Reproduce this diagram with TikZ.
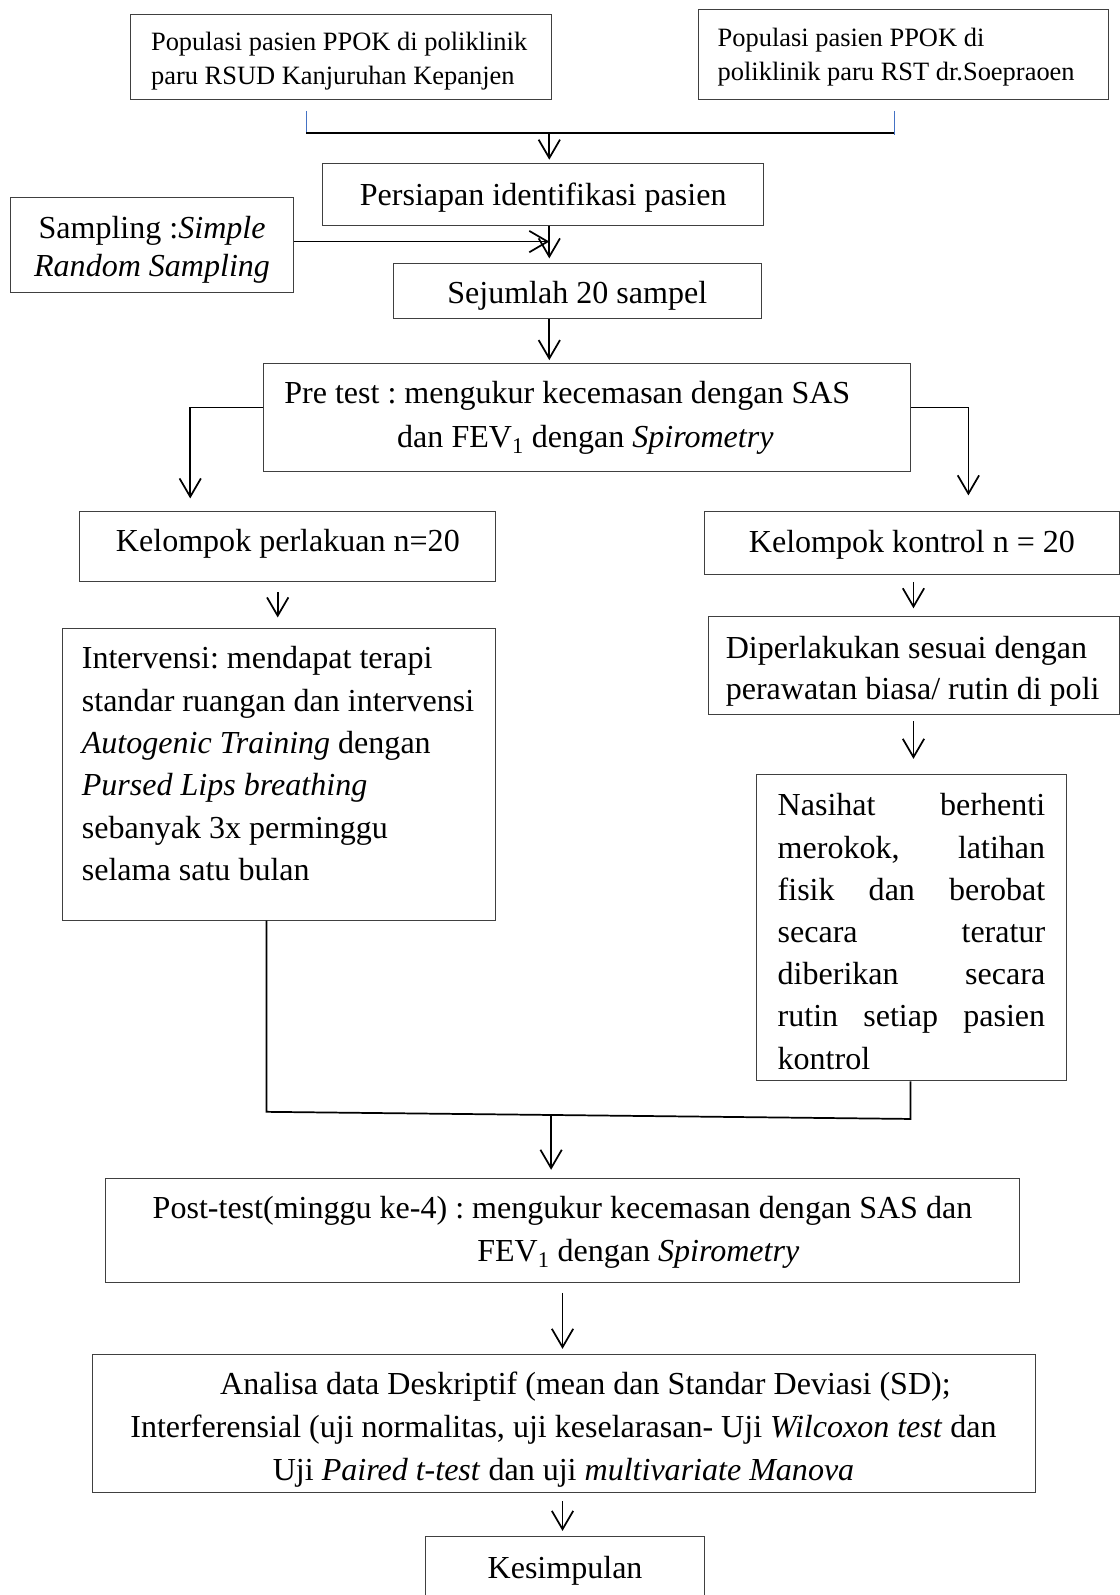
\documentclass[tikz,border=0pt]{standalone}
\usepackage{fontspec}
\setmainfont{Liberation Serif}
\usetikzlibrary{arrows.meta,calc}
\definecolor{tickblue}{RGB}{68,114,196}
\newcommand\bodysize{\fontsize{31.5}{41.6}\selectfont}
\newcommand\smallsize{\fontsize{26}{34}\selectfont}
% fixed natural interword spacing inside nodes
\newcommand\wsp{\spaceskip=.25em\xspaceskip=.25em\relax}
\frenchspacing

\begin{document}
\begin{tikzpicture}[x=1pt,y=-1pt,
  box/.style={draw=black!75, line width=1pt, inner ysep=0pt, anchor=north west,
              font=\bodysize, align=left},
  cbox/.style={box, align=center},
  link/.style={line width=1.7pt},
  arr/.style={line width=1.7pt, -{Straight Barb[length=18pt,width=21pt]}},
  tick/.style={draw=tickblue, line width=1.2pt}]

\useasboundingbox (0,0) rectangle (1101,1568);
\fill[white] (0,0) rectangle (1101,1568);

% source populations
\node[box, font=\smallsize, inner xsep=20pt, text width=374pt,
      text height=35pt, text depth=48pt] (A) at (128,14)
  {\wsp\mbox{Populasi pasien PPOK di poliklinik}\\\mbox{paru RSUD Kanjuruhan Kepanjen}};
\node[box, font=\smallsize, inner xsep=19pt, text width=365pt,
      text height=36pt, text depth=52pt] (B) at (686,9)
  {\wsp\mbox{Populasi pasien PPOK di}\\\mbox{poliklinik paru RST dr.Soepraoen}};

% preparation and sampling
\node[cbox, inner xsep=10pt, text width=413pt,
      text height=41.5pt, text depth=19.5pt] (C) at (317,160)
  {\wsp Persiapan identifikasi pasien};
\node[cbox, font={\fontsize{31.5}{37}\selectfont}, inner xsep=10pt, text width=258pt,
      text height=40pt, text depth=53pt] (S) at (10,194)
  {\wsp Sampling :\textit{Simple}\\\textit{Random Sampling}};
\node[cbox, inner xsep=10pt, text width=342pt,
      text height=38.5pt, text depth=15.5pt] (D) at (386,259)
  {\wsp Sejumlah 20 sampel};

% pre test
\node[box, font={\fontsize{31.5}{43}\selectfont}, inner xsep=20pt, text width=596pt,
      text height=39.5pt, text depth=66.5pt] (E) at (259,357)
  {\wsp\mbox{Pre test : mengukur kecemasan dengan SAS}\\
   \hspace*{111pt}dan FEV\textsubscript{1} dengan \textit{Spirometry}};

% groups
\node[cbox, inner xsep=10pt, text width=389pt,
      text height=40pt, text depth=29pt] (F) at (78,502)
  {\wsp Kelompok perlakuan n=20};
\node[cbox, inner xsep=10pt, text width=388pt,
      text height=40.5pt, text depth=21.5pt] (G) at (692,502)
  {\wsp Kelompok kontrol n = 20};

\node[box, inner xsep=19pt, text width=388pt,
      text height=40pt, text depth=247pt] (H) at (61,617)
  {\wsp\mbox{Intervensi: mendapat terapi}\\
   \mbox{standar ruangan dan intervensi}\\
   \mbox{\textit{Autogenic Training} dengan}\\
   \mbox{\textit{Pursed Lips breathing}}\\
   \mbox{sebanyak 3x perminggu}\\
   \mbox{selama satu bulan}};

\node[box, font={\fontsize{31.5}{41}\selectfont}, inner xsep=17pt, text width=370pt,
      text height=40.5pt, text depth=55.5pt] (I) at (696,606)
  {\wsp\mbox{Diperlakukan sesuai dengan}\\\mbox{perawatan biasa/ rutin di poli}};

% justified block: each full line spread over the text width
\node[box, font={\fontsize{31.5}{41.5}\selectfont}, inner xsep=21pt, text width=263pt,
      text height=40.5pt, text depth=260.5pt] (J) at (743,761)
  {\wsp
   \makebox[263pt][s]{Nasihat\hfill berhenti}\\
   \makebox[263pt][s]{merokok,\hfill latihan}\\
   \makebox[263pt][s]{fisik\hfill dan\hfill berobat}\\
   \makebox[263pt][s]{secara\hfill teratur}\\
   \makebox[263pt][s]{diberikan\hfill secara}\\
   \makebox[263pt][s]{rutin\hfill setiap\hfill pasien}\\
   kontrol};

% post test, analysis, conclusion
\node[cbox, font={\fontsize{31.5}{42}\selectfont}, inner xsep=10pt, text width=879pt,
      text height=39.5pt, text depth=62.5pt] (K) at (103,1158)
  {\wsp Post-test(minggu ke-4) : mengukur kecemasan dengan SAS dan\\
   \hspace*{149pt}FEV\textsubscript{1} dengan \textit{Spirometry}};

\node[cbox, font={\fontsize{31.5}{42}\selectfont}, inner xsep=10pt, text width=907pt,
      text height=39.5pt, text depth=96.5pt] (L) at (90,1331)
  {\wsp\hspace*{43pt}Analisa data Deskriptif (mean dan Standar Deviasi (SD);\\
   Interferensial (uji normalitas, uji keselarasan- Uji \textit{Wilcoxon test} dan\\
   Uji \textit{Paired t-test} dan uji \textit{multivariate Manova}};

\node[cbox, inner xsep=10pt, text width=254pt,
      text height=41.5pt, text depth=18.5pt] (M) at (418,1510)
  {\wsp Kesimpulan};

% helper points for connector routes
\coordinate (jA) at (301,131);
\coordinate (jB) at (879,131);
\coordinate (xm) at (540,0);
\coordinate (sE) at ([yshift=3.5pt]S.east);
\coordinate (eW) at ([yshift=10pt]E.west);
\coordinate (eE) at ([yshift=10pt]E.east);
\coordinate (xl) at (187,0);
\coordinate (xr) at (952,0);
\coordinate (xf) at (273,0);
\coordinate (xg) at (898,0);
\coordinate (jH) at (262,1093);
\coordinate (jJ) at (895,1100);
\coordinate (jK) at ($(jH)!0.442!(jJ)$);
\coordinate (xk) at (553,0);

% merging the two populations
\draw[tick, shorten <=11pt] (A.south -| jA) -- (jA);
\draw[tick, shorten <=11pt] (B.south -| jB) -- ([yshift=-2pt]jB);
\draw[link] (jA) -- (jB);
\draw[arr, shorten >=3pt] (jA -| xm) -- (C.north -| xm);

% sampling into the sample
\draw[arr, shorten >=5pt] (C.south -| xm) -- (D.north -| xm);
\draw[arr] (sE) -- (sE -| xm);
\draw[arr, shorten >=3pt] (D.south -| xm) -- (E.north -| xm);

% split into the two groups
\draw[arr, shorten >=12pt] (eW) -| (F.north -| xl);
\draw[arr, shorten >=15pt] (eE) -| (G.north -| xr);
\draw[arr, shorten <=10pt, shorten >=10pt] (F.south -| xf) -- (H.north -| xf);
\draw[arr, shorten <=7pt, shorten >=8pt] (G.south -| xg) -- (I.north -| xg);
\draw[arr, shorten <=6pt, shorten >=15pt] (I.south -| xg) -- (J.north -| xg);

% groups join for the post test
\draw[link] (H.south -| jH) -- (jH) -- (jJ) -- (J.south -| jJ);
\draw[arr, shorten >=8pt] (jK) -- (K.north -| jK);
\draw[arr, shorten <=10pt, shorten >=5pt] (K.south -| xk) -- (L.north -| xk);
\draw[arr, shorten <=8pt, shorten >=5pt] (L.south -| xk) -- (M.north -| xk);
\end{tikzpicture}
\end{document}
